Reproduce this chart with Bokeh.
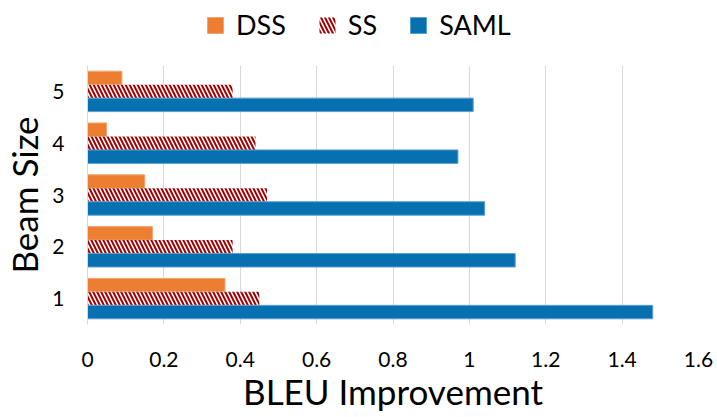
from bokeh.plotting import figure
from bokeh.layouts import column
from bokeh.models import ColumnDataSource, FixedTicker, NumeralTickFormatter, Legend, LegendItem, Range1d
from bokeh.transform import dodge
from bokeh.embed import file_html
from bokeh.resources import INLINE

beam_sizes = [1, 2, 3, 4, 5]
dss = [0.36, 0.17, 0.15, 0.05, 0.09]
ss = [0.45, 0.38, 0.47, 0.44, 0.38]
saml = [1.48, 1.12, 1.04, 0.97, 1.01]
x_ticks = [0, 0.2, 0.4, 0.6, 0.8, 1.0, 1.2, 1.4, 1.6]
series_names = ["DSS", "SS", "SAML"]

src = ColumnDataSource(dict(beam=beam_sizes, dss=dss, ss=ss, saml=saml))

FONT = "Lato"
BAR_H = 0.26
STYLES = [
    dict(fill_color="#ED7D31", line_color="#F4A46E", line_width=1),
    dict(fill_color="white", line_color=None, hatch_pattern="\\", hatch_color="#A00000",
         hatch_scale=8, hatch_weight=2.0),
    dict(fill_color="#0670B0", line_color="#5A9FD0", line_width=1),
]

p = figure(width=717, height=362, output_backend="svg", toolbar_location=None,
           x_range=Range1d(0, 1.6), y_range=Range1d(0.5, 5.5),
           min_border_left=87, min_border_right=19, min_border_top=10, min_border_bottom=93)
p.outline_line_color = None

p.hbar(y=dodge("beam", BAR_H), left=0, right="dss", height=BAR_H, source=src, **STYLES[0])
p.hbar(y="beam", left=0, right="ss", height=BAR_H, source=src, **STYLES[1])
p.hbar(y=dodge("beam", -BAR_H), left=0, right="saml", height=BAR_H, source=src, **STYLES[2])

# axes
p.xaxis.ticker = FixedTicker(ticks=x_ticks)
p.xaxis.formatter = NumeralTickFormatter(format="0.[0]")
p.xaxis.axis_line_color = None
p.xaxis.major_tick_line_color = None
p.xaxis.minor_tick_line_color = None
p.xaxis.major_tick_out = 0
p.xaxis.major_label_standoff = 27
p.xaxis.major_label_text_font = FONT
p.xaxis.major_label_text_font_size = "21px"
p.xaxis.major_label_text_color = "black"
p.xaxis.axis_label = "BLEU Improvement"
p.xaxis.axis_label_text_font = FONT
p.xaxis.axis_label_text_font_style = "normal"
p.xaxis.axis_label_text_font_size = "35px"
p.xaxis.axis_label_text_color = "black"
p.xaxis.axis_label_standoff = 0

p.yaxis.ticker = FixedTicker(ticks=beam_sizes)
p.yaxis.axis_line_color = "#D9D9D9"
p.yaxis.major_tick_line_color = None
p.yaxis.minor_tick_line_color = None
p.yaxis.major_tick_out = 0
p.yaxis.major_label_standoff = 23
p.yaxis.major_label_text_font = FONT
p.yaxis.major_label_text_font_size = "21px"
p.yaxis.major_label_text_color = "black"
p.yaxis.axis_label = "Beam Size"
p.yaxis.axis_label_text_font = FONT
p.yaxis.axis_label_text_font_style = "normal"
p.yaxis.axis_label_text_font_size = "35px"
p.yaxis.axis_label_text_color = "black"
p.yaxis.axis_label_standoff = 4

p.xgrid.grid_line_color = "#D9D9D9"
p.xgrid.grid_line_width = 1
p.ygrid.grid_line_color = None

# legend strip on top (legend-only renderers carry no drawable data)
lg = figure(width=717, height=55, output_backend="svg", toolbar_location=None,
            x_range=Range1d(0, 1), y_range=Range1d(0, 1),
            x_axis_type=None, y_axis_type=None,
            min_border_left=0, min_border_right=0, min_border_top=0, min_border_bottom=0)
lg.outline_line_color = None
lg.xgrid.visible = False
lg.ygrid.visible = False
nan = float("nan")
no_data = ColumnDataSource(dict(y=[nan], left=[nan], right=[nan]))
items = []
for name, st in zip(series_names, STYLES):
    r = lg.hbar(y="y", left="left", right="right", height=0.1, source=no_data, **st)
    items.append(LegendItem(label=name, renderers=[r]))
legend = Legend(items=items, orientation="horizontal", location=(118, 14),
                glyph_width=20, glyph_height=20, label_standoff=11, spacing=31,
                label_text_font=FONT, label_text_font_size="27px", label_text_color="black",
                border_line_color=None, background_fill_alpha=0, padding=0, margin=0)
lg.add_layout(legend, "center")

layout = column(lg, p, spacing=0)
open("out.html", "w").write(file_html(layout, INLINE))
